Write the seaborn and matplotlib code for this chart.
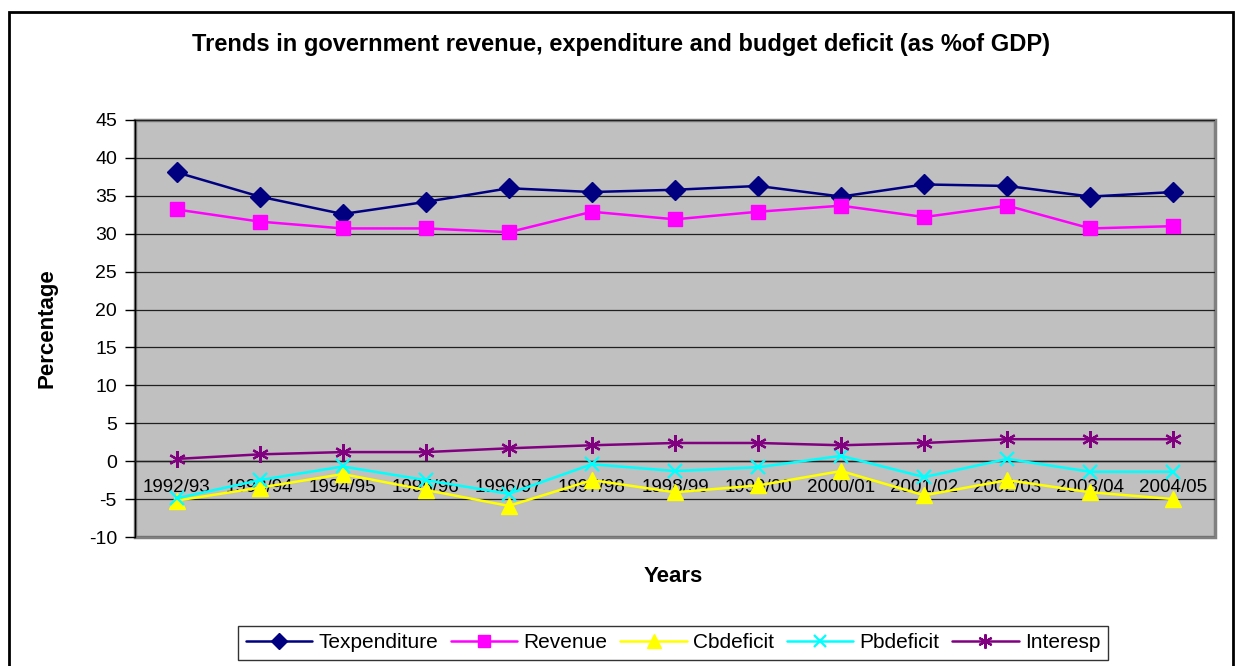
import numpy as np
import pandas as pd
import matplotlib
matplotlib.use("Agg")
import matplotlib.pyplot as plt
from matplotlib.patches import Rectangle
from matplotlib.lines import Line2D
import seaborn as sns

# Fiscal years and series (% of GDP)
years = ["1992/93", "1993/94", "1994/95", "1995/96", "1996/97", "1997/98", "1998/99",
         "1999/00", "2000/01", "2001/02", "2002/03", "2003/04", "2004/05"]
texpenditure = [38.1, 34.9, 32.6, 34.2, 36.0, 35.5, 35.8, 36.3, 34.9, 36.5, 36.3, 34.9, 35.5]
revenue = [33.2, 31.6, 30.7, 30.7, 30.2, 32.9, 31.9, 32.9, 33.7, 32.2, 33.7, 30.7, 31.0]
cbdeficit = [-5.2, -3.5, -1.7, -3.8, -5.9, -2.5, -4.1, -3.2, -1.3, -4.5, -2.5, -4.1, -5.0]
pbdeficit = [-4.9, -2.5, -0.7, -2.5, -4.3, -0.4, -1.3, -0.8, 0.7, -2.1, 0.3, -1.4, -1.4]
interesp = [0.3, 0.9, 1.2, 1.2, 1.7, 2.1, 2.4, 2.4, 2.1, 2.4, 2.9, 2.9, 2.9]

series_names = ["Texpenditure", "Revenue", "Cbdeficit", "Pbdeficit", "Interesp"]
series_values = [texpenditure, revenue, cbdeficit, pbdeficit, interesp]
y_ticks = list(range(-10, 50, 5))

styles = {
    "Texpenditure": dict(color="#000080", marker="D", ms=10, mew=1.0),
    "Revenue": dict(color="#FF00FF", marker="s", ms=9.5, mew=1.0),
    "Cbdeficit": dict(color="#FFFF00", marker="^", ms=12, mew=1.0),
    "Pbdeficit": dict(color="#00FFFF", marker="x", ms=10, mew=1.6),
    "Interesp": dict(color="#800080", marker=(6, 2, 0), ms=12, mew=1.6),
}

df = pd.DataFrame({"pos": np.tile(np.arange(len(years)), len(series_names)),
                   "year": years * len(series_names),
                   "series": np.repeat(series_names, len(years)),
                   "value": np.concatenate(series_values)})

sns.set_theme(style="white")
plt.rcParams["font.family"] = ["Liberation Sans", "DejaVu Sans"]
plt.rcParams["text.color"] = "black"
plt.rcParams["axes.labelcolor"] = "black"
plt.rcParams["xtick.color"] = "black"
plt.rcParams["ytick.color"] = "black"

W, H = 1237, 666
fig = plt.figure(figsize=(W / 100, H / 100), dpi=100)
fig.patch.set_facecolor("white")
ax = fig.add_axes([135 / W, 1 - 537 / H, 1080 / W, 417 / H])
ax.set_facecolor("#C0C0C0")

for name in series_names:
    st = styles[name]
    sns.lineplot(data=df[df["series"] == name], x="pos", y="value", ax=ax,
                 color=st["color"], marker=st["marker"], markersize=st["ms"],
                 markeredgecolor=st["color"], markerfacecolor=st["color"],
                 markeredgewidth=st["mew"], linewidth=1.8, label=name,
                 legend=False, zorder=3)

ax.set_xlim(-0.5, len(years) - 0.5)
ax.set_ylim(-10, 45)
ax.set_yticks(y_ticks)
ax.set_yticklabels([str(v) for v in y_ticks], fontsize=14)
ax.yaxis.grid(True, color="#202020", linewidth=0.9)
ax.set_axisbelow(True)

# category axis crossing at zero, ticks between categories
ax.spines["bottom"].set_position(("data", 0))
ax.spines["bottom"].set_color("#202020")
ax.spines["bottom"].set_linewidth(1.0)
ax.set_xticks(np.arange(len(years)))
ax.set_xticklabels(years, fontsize=13.5)
ax.set_xticks(np.arange(-0.5, len(years), 1.0), minor=True)
ax.tick_params(axis="x", which="major", length=0, pad=13, colors="black")
ax.tick_params(axis="x", which="minor", length=6, width=1, color="#202020", direction="out")
ax.tick_params(axis="y", length=7, width=1, color="black", labelcolor="black",
               direction="out", pad=6, left=True)
ax.spines["left"].set_color("black")
ax.spines["left"].set_linewidth(1.0)
for s in ["top", "right"]:
    ax.spines[s].set_visible(False)
ax.patch.set_edgecolor("#808080")
ax.patch.set_linewidth(2.5)

ax.set_xlabel("")
ax.set_ylabel("Percentage", fontsize=16, fontweight="bold", color="black")
ax.yaxis.set_label_coords((57 - 135) / 1080, 0.5)

fig.text(673 / W, 1 - 577 / H, "Years", ha="center", va="center",
         fontsize=16, fontweight="bold", color="black")
fig.text(621 / W, 1 - 45 / H,
         "Trends in government revenue, expenditure and budget deficit (as %of GDP)",
         ha="center", va="center", fontsize=17, fontweight="bold", color="black")

handles = [Line2D([], [], color=styles[n]["color"], marker=styles[n]["marker"],
                  markersize=styles[n]["ms"] * 0.85, markeredgecolor=styles[n]["color"],
                  markerfacecolor=styles[n]["color"], markeredgewidth=styles[n]["mew"],
                  linewidth=1.8) for n in series_names]
leg = fig.legend(handles, series_names, loc="center", ncol=5,
                 bbox_to_anchor=(673 / W, 1 - 643 / H), fontsize=15,
                 frameon=True, fancybox=False, edgecolor="black",
                 handlelength=3.2, columnspacing=0.6, handletextpad=0.3,
                 borderpad=0.35)
leg.get_frame().set_linewidth(1.0)
for t in leg.get_texts():
    t.set_color("black")

# outer chart border
fig.add_artist(Rectangle((9 / W, -0.05), (1233 - 9) / W, (H - 12) / H + 0.05,
                         transform=fig.transFigure, fill=False, edgecolor="black",
                         linewidth=2, clip_on=False))

fig.savefig("out.png", dpi=100)
